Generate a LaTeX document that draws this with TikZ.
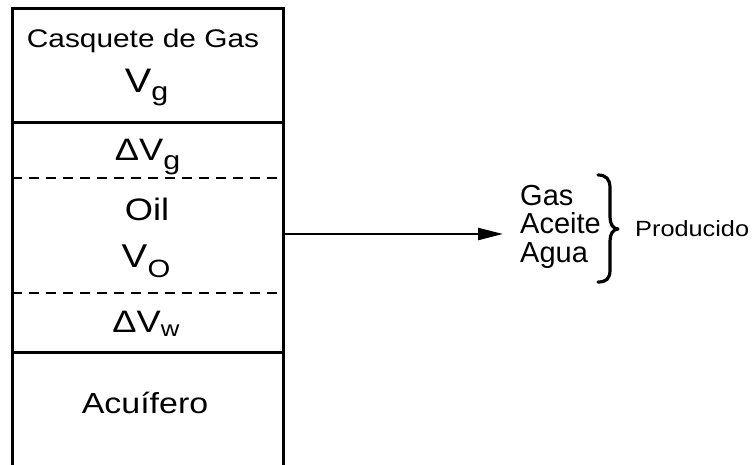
\documentclass[tikz,border=0pt]{standalone}
\usepackage{fontspec}
\setmainfont{Liberation Sans}
\usepackage{graphicx}
\usetikzlibrary{arrows.meta}
\newcommand{\sx}[1]{\scalebox{1.17}[1]{#1}}
\newcommand{\fs}[1]{\fontsize{#1}{#1}\selectfont}
\begin{document}
\begin{tikzpicture}[x=1pt,y=-1pt,
  wall/.style={line width=3pt, line cap=rect},
  solidsep/.style={line width=3pt},
  dashsep/.style={line width=2.8pt, dash pattern=on 10pt off 7pt},
  lbl/.style={inner sep=0pt, anchor=base},
  rlbl/.style={inner sep=0pt, anchor=base west, font=\fs{29}},
  flow/.style={line width=2.3pt, -{Triangle[length=25pt,width=12pt]}},
  bracestyle/.style={line width=3.2pt, line cap=round, line join=round}]
\useasboundingbox (0,0) rectangle (752,464);
% reservoir column
\draw[wall] (12,466) -- (12,8) -- (283,8) -- (283,466);
\draw[solidsep] (12,122) -- (283,122);
\draw[dashsep] (12,178) -- (283,178);
\draw[dashsep] (12,293) -- (283,293);
\draw[solidsep] (12,352) -- (283,352);
% labels in the column
\node[lbl] (cap) at (143,47) {\fs{25.5}\sx{Casquete de Gas}};
\node[lbl] (vg) at (146.5,92) {\fs{34}\sx{V\raisebox{-8pt}{\fs{26}g}}};
\node[lbl] (dvg) at (147.5,160) {\fs{31}\sx{ΔV\raisebox{-9pt}{\fs{26}g}}};
\node[lbl] (oil) at (147,220) {\fs{31}\sx{Oil}};
\node[lbl] (vo) at (146,267) {\fs{33}\sx{V\raisebox{-10pt}{\fs{25}O}}};
\node[lbl] (dvw) at (146,332) {\fs{31}\sx{ΔV\raisebox{-4pt}{\fs{22}w}}};
\node[lbl] (acu) at (145,413) {\fs{29}\sx{Acuífero}};
% arrow
\coordinate (colE) at (283,234);
\coordinate (arrEnd) at (503,234);
\draw[flow] (colE) -- (arrEnd);
% products
\node[rlbl] (gas) at (520,205) {Gas};
\node[rlbl] (aceite) at (520,233) {Aceite};
\node[rlbl] (agua) at (520,262) {Agua};
% brace
\draw[bracestyle] (598,175) .. controls (606,175) and (610,179) .. (610,188)
  -- (610,217) .. controls (610,224) and (613,229) .. (618,229)
  .. controls (613,229) and (610,234) .. (610,241)
  -- (610,270) .. controls (610,279) and (606,282) .. (598,282);
\node[inner sep=0pt, anchor=base west] (prod) at (635,236) {\fs{22}\scalebox{1.15}[1]{Producido}};
\end{tikzpicture}
\end{document}
